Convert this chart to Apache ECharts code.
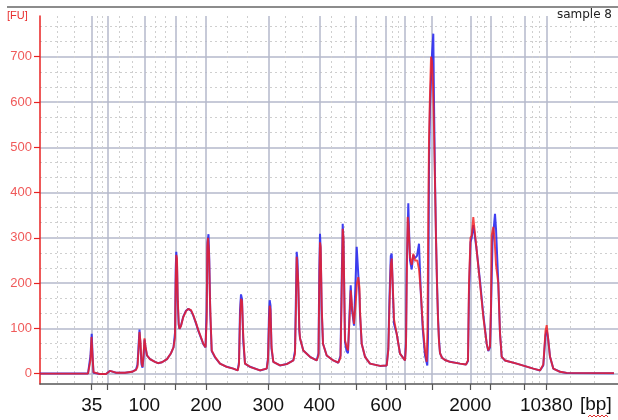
<!DOCTYPE html>
<html>
<head>
<meta charset="utf-8">
<script src="https://cdn.jsdelivr.net/npm/echarts@6/dist/echarts.min.js"></script>
<style>
html,body{margin:0;padding:0;background:#fff;}
#chart{width:618px;height:420px;}
</style>
</head>
<body>
<div id="chart"></div>
<script>
// Ladder (bp) and their migration positions on the x scale
const ladderBp  = [35, 50, 100, 150, 200, 300, 400, 500, 600, 700, 1000, 2000, 3000, 7000, 10380];
const ladderPos = [51.7, 67.3, 104.3, 135.7, 166, 228.3, 279.3, 316, 346, 365, 392, 430.3, 450.7, 484.7, 506.3];
const labeledBp = [35, 100, 200, 300, 400, 600, 2000, 10380];
const yTicks = [0, 100, 200, 300, 400, 500, 600, 700];
const xRange = [0, 578];
const yRange = [-23, 790];

// Red trace [position, FU]
const redTrace = [[0,0],[48,0],[49.5,2],[50.5,30],[51.5,81],[52.5,40],[53.5,3],[55,-1],[60,-1],[66,-1],[68,3],[70,6],[72,3],[76,2],[85,2],[92,4],[96,8],[97.5,15],[98.5,50],[99.5,92],[100.5,70],[101.5,25],[102.5,15],[103.5,40],[104.5,78],[105.5,60],[107,40],[110,32],[115,26],[118,23],[122,25],[127,32],[131,45],[133.5,58],[135,80],[135.7,200],[136.3,262],[137,255],[137.7,170],[138.7,110],[139.5,99],[141,105],[143.3,125],[146,138],[148.3,143],[151,140],[153.3,129],[156,112],[158.3,96],[161,80],[163.3,66],[165.5,58],[166.7,120],[167.3,280],[168,300],[169,270],[170,160],[171.7,51],[175,37],[180,22],[186.7,15],[193.3,11],[197.7,7],[199,20],[200,120],[201,165],[202,160],[203.3,80],[205,22],[210,15],[220,7],[226.7,11],[228,30],[229,110],[229.7,150],[230.5,140],[231.5,60],[233.3,26],[240,18],[246.7,21],[253.3,29],[255,44],[256,150],[256.7,258],[257.5,255],[258.3,200],[259.3,100],[260,78],[263.3,51],[270,37],[276.7,29],[278.5,40],[279.3,200],[280,290],[280.7,280],[281.7,150],[283,66],[286.7,40],[293.3,29],[298.3,24],[300.5,35],[301.5,150],[302.7,320],[303.5,300],[305,74],[306.5,60],[308,51],[309.5,120],[310.7,184],[312,150],[314,110],[315.5,150],[317,200],[318.3,213],[319.5,190],[320,140],[321.7,66],[325,37],[330,22],[340,17],[346.7,18],[348.3,51],[349.5,150],[350.8,240],[351.7,254],[352.7,200],[354,120],[356.7,88],[360,44],[365,29],[366,60],[366.7,199],[367.7,346],[368.5,330],[370,258],[371.7,240],[373.3,265],[375,250],[377.3,250],[379,230],[380.7,184],[382.7,110],[385,51],[386.7,26],[387.5,100],[388.3,350],[389,520],[390,620],[391,700],[392,690],[393,640],[394,540],[395,420],[396,300],[397,200],[398,120],[399,70],[400,45],[402,35],[405,30],[410,26],[420,22],[426,20],[428,30],[429,200],[430.5,300],[431.7,305],[433.3,346],[434.5,320],[436.7,272],[440,199],[443.3,125],[446.7,66],[448.3,51],[450,60],[451,150],[451.7,305],[453.3,324],[454.5,300],[456,240],[458.3,199],[460,88],[461.7,37],[465,29],[476.7,22],[493.3,11],[500,7],[503.3,20],[504.5,60],[505.5,95],[506.7,107],[508,80],[510,37],[513.3,11],[520,4],[526.7,1.5],[574,1]];

// Blue trace [position, FU]
const blueTrace = [[0,0],[48,0],[49.5,3],[50.5,40],[51.7,88],[52.7,35],[53.5,2],[55,-1],[60,-1],[66,-1],[68,3],[70,6],[72,3],[76,2],[85,2],[92,4],[96,9],[97.5,20],[98.5,60],[99.5,97],[100.5,60],[101.5,20],[102.5,13],[103.5,35],[104.5,75],[105.5,58],[107,40],[110,32],[115,26],[118,23],[122,25],[127,32],[131,45],[133.5,58],[135,90],[135.7,230],[136.3,269],[137,240],[137.7,160],[138.7,108],[139.5,99],[141,106],[143.3,126],[146,139],[148.3,143],[151,139],[153.3,128],[156,111],[158.3,95],[161,79],[163.3,65],[165.5,58],[166.7,140],[167.5,290],[168.5,308],[169.3,250],[170.3,130],[171.7,50],[175,36],[180,22],[186.7,15],[193.3,11],[197.7,7],[199,25],[200,140],[201,175],[202,165],[203.3,70],[205,22],[210,15],[220,7],[226.7,11],[228,35],[229,130],[229.7,162],[230.5,150],[231.5,55],[233.3,26],[240,18],[246.7,21],[253.3,29],[255,50],[256,180],[256.7,269],[257.5,250],[258.3,190],[259.3,95],[260,78],[263.3,51],[270,37],[276.7,29],[278.5,45],[279.3,230],[280,309],[280.7,270],[281.7,140],[283,66],[286.7,40],[293.3,29],[298.3,24],[300.5,40],[301.5,180],[302.7,331],[303.5,290],[305,70],[306.5,50],[308,45],[309.5,130],[310.7,195],[312,140],[314,106],[315.5,200],[316.7,280],[318,230],[319.5,170],[320,130],[321.7,66],[325,37],[330,22],[340,17],[346.7,18],[348.3,55],[349.5,170],[350.8,260],[351.7,265],[352.7,190],[354,110],[356.7,88],[360,44],[365,29],[366,70],[366.7,230],[368.3,376],[369,320],[370,250],[371.7,230],[373.3,262],[375,255],[377,260],[379,287],[380.7,184],[382.7,100],[385,40],[387.3,18],[388,80],[388.5,250],[389,460],[390,590],[391,650],[392,705],[393.3,751],[394,600],[395,430],[396,300],[397,200],[398,125],[399,75],[400,45],[402,35],[405,30],[410,26],[420,22],[426,20],[428,28],[429,180],[430.5,290],[431.7,300],[433.3,328],[434.5,310],[436.7,272],[440,205],[443.3,130],[446.7,66],[448.3,50],[450,58],[451,140],[452.5,290],[455,353],[456,320],[458.3,199],[460,90],[461.7,37],[465,29],[476.7,22],[493.3,11],[500,7],[503.3,18],[504.5,55],[505.5,85],[506.7,96],[508,80],[510,37],[513.3,11],[520,4],[526.7,1.5],[574,1]];

// Derived grid helpers
const labeledPos = labeledBp.map(b => ladderPos[ladderBp.indexOf(b)]);
const bounds = [xRange[0]].concat(ladderPos, [xRange[1]]);
const minorX = [];
for (let i = 0; i < bounds.length - 1; i++) {
  const a = bounds[i], b = bounds[i + 1];
  minorX.push(a + (b - a) / 3, a + 2 * (b - a) / 3);
}
const minorY = [];
for (let k = 1; k * 100 / 3 < yRange[1]; k++) {
  if (k % 3 !== 0) minorY.push(k * 100 / 3);
}

const chart = echarts.init(document.getElementById('chart'), null, {renderer: 'canvas'});
const font = '"Liberation Sans", Arial, sans-serif';
chart.setOption({
  animation: false,
  backgroundColor: '#ffffff',
  grid: {left: 40, right: 0, top: 16, bottom: 36, containLabel: false},
  xAxis: [{
    type: 'value', min: xRange[0], max: xRange[1],
    axisLine: {show: true, onZero: false, lineStyle: {color: '#555', width: 1.5}},
    axisTick: {show: true, customValues: ladderPos, length: 6, lineStyle: {color: '#555', width: 1.2}},
    axisLabel: {show: true, customValues: labeledPos, margin: 12, fontSize: 19, color: '#111', fontFamily: font,
      formatter: v => { const i = labeledPos.findIndex(p => Math.abs(p - v) < 0.01); return i >= 0 ? String(labeledBp[i]) : ''; }},
    splitLine: {show: true, lineStyle: {color: '#b4b9cb', width: 1.5}}
  }, {
    type: 'value', min: xRange[0], max: xRange[1], position: 'bottom',
    axisLine: {show: false}, axisLabel: {show: false},
    axisTick: {show: false, customValues: minorX},
    splitLine: {show: true, lineStyle: {color: '#cfcfcf', width: 1, type: [2, 3]}}
  }],
  yAxis: [{
    type: 'value', min: yRange[0], max: yRange[1],
    axisLine: {show: true, onZero: false, lineStyle: {color: '#e82222', width: 1.5}},
    axisTick: {show: true, customValues: yTicks, length: 6, lineStyle: {color: '#e82222', width: 1.2}},
    axisLabel: {show: true, customValues: yTicks, margin: 8, fontSize: 13, color: '#f05a5a', fontFamily: font},
    splitLine: {show: true, lineStyle: {color: '#b4b9cb', width: 1.5}}
  }, {
    type: 'value', min: yRange[0], max: yRange[1], position: 'left',
    axisLine: {show: false}, axisLabel: {show: false},
    axisTick: {show: false, customValues: minorY},
    splitLine: {show: true, lineStyle: {color: '#cfcfcf', width: 1, type: [2, 3]}}
  }],
  series: [{
    name: 'blue', type: 'line', data: blueTrace, showSymbol: false, symbol: 'none',
    lineStyle: {color: '#2a2af0', width: 2, opacity: 0.9}, z: 3
  }, {
    name: 'red', type: 'line', data: redTrace, showSymbol: false, symbol: 'none',
    lineStyle: {color: '#f51e1e', width: 1.9, opacity: 0.82}, z: 4
  }],
  graphic: [
    {type: 'rect', shape: {x: 7, y: 6, width: 611, height: 2}, style: {fill: '#8c8c8c'}, silent: true},
    {type: 'text', left: 7, top: 10, style: {text: '[FU]', fill: '#e83030', fontSize: 11, fontFamily: font}},
    {type: 'text', right: 6, top: 9, style: {text: 'sample 8', fill: '#222', fontSize: 12, fontFamily: '"DejaVu Sans", sans-serif'}},
    {type: 'text', left: 580, top: 395, style: {text: '[bp]', fill: '#111', fontSize: 19, fontFamily: font}},
    {type: 'polyline', shape: {points: [[588,417],[590,415],[592,417],[594,415],[596,417],[598,415],[600,417],[602,415],[604,417],[606,415],[608,417]]}, style: {stroke: '#e03030', lineWidth: 1, fill: null}, silent: true}
  ]
});
</script>
</body>
</html>
